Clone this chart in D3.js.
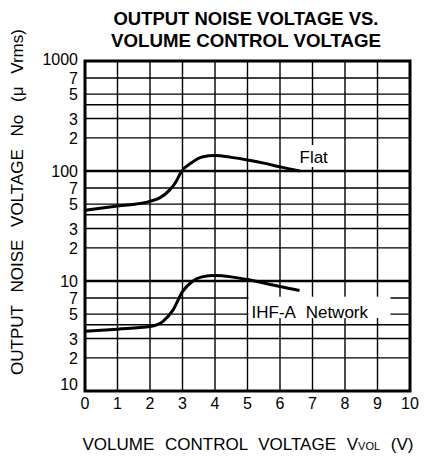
<!DOCTYPE html>
<html>
<head>
<meta charset="utf-8">
<script src="https://cdn.jsdelivr.net/npm/d3@7"></script>
<style>
  body { margin: 0; background: #fff; }
  svg { display: block; }
  text { font-family: "Liberation Sans", Arial, sans-serif; fill: #000; }
</style>
</head>
<body>
<div id="chart"></div>
<script>
// axis values
let xTicks = [0, 1, 2, 3, 4, 5, 6, 7, 8, 9, 10]
let yGrid = [2, 3, 4, 5, 7, 10, 20, 30, 40, 50, 70, 100, 200, 300, 400, 500, 700]
let yDecades = [10, 100]
let yLabelValues = [1000, 700, 500, 300, 200, 100, 70, 50, 30, 20, 10, 7, 5, 3, 2, 1]
let yLabelTexts = ['1000', '7', '5', '3', '2', '100', '7', '5', '3', '2', '10', '7', '5', '3', '2', '10']

// curves (V, uVrms)
let flatX = [0, 1, 2, 2.3, 2.6, 2.8, 2.95, 3.3, 3.6, 4.0, 4.5, 5.0, 5.5, 6.0, 6.6]
let flatY = [44, 48, 53, 57, 67, 80, 97, 120, 134, 138, 133, 126, 118, 109, 100]
let ihfX = [0, 1, 2, 2.4, 2.7, 3.0, 3.3, 3.6, 4.0, 4.5, 5.0, 5.5, 6.0, 6.6]
let ihfY = [3.5, 3.65, 3.85, 4.3, 5.4, 8.0, 9.9, 10.9, 11.2, 10.9, 10.3, 9.6, 8.9, 8.2]

let titleLines = ['OUTPUT NOISE VOLTAGE VS.', 'VOLUME CONTROL VOLTAGE']
let titleWidths = [265, 270]

function draw() {
  let width = 436, height = 458
  let svg = d3.select('#chart').append('svg')
    .attr('width', width)
    .attr('height', height)

  let x = d3.scaleLinear().domain([0, 10]).range([85, 410])
  let y = d3.scaleLog().domain([1, 1000]).range([391, 61])

  // grid
  svg.selectAll('line.vgrid')
    .data(xTicks.slice(1, -1))
    .enter().append('line')
      .attr('class', 'vgrid')
      .attr('x1', d => x(d)).attr('x2', d => x(d))
      .attr('y1', y(1)).attr('y2', y(1000))
      .attr('stroke', '#000').attr('stroke-width', 1.4)

  svg.selectAll('line.hgrid')
    .data(yGrid)
    .enter().append('line')
      .attr('class', 'hgrid')
      .attr('x1', x(0)).attr('x2', x(10))
      .attr('y1', d => y(d)).attr('y2', d => y(d))
      .attr('stroke', '#000')
      .attr('stroke-width', d => yDecades.includes(d) ? 2.4 : 1.4)

  // curves
  let line = d3.line()
    .x(d => x(d[0]))
    .y(d => y(d[1]))
    .curve(d3.curveMonotoneX)

  let curves = [d3.zip(flatX, flatY), d3.zip(ihfX, ihfY)]
  svg.selectAll('path.curve')
    .data(curves)
    .enter().append('path')
      .attr('class', 'curve')
      .attr('d', line)
      .attr('fill', 'none')
      .attr('stroke', '#000')
      .attr('stroke-width', 3)

  // frame
  svg.append('rect')
    .attr('x', x(0)).attr('y', y(1000))
    .attr('width', x(10) - x(0)).attr('height', y(1) - y(1000))
    .attr('fill', 'none').attr('stroke', '#000').attr('stroke-width', 3)

  // curve labels (white boxes hide grid)
  svg.append('rect')
    .attr('x', x(6.55)).attr('y', 145).attr('width', 36).attr('height', 22)
    .attr('fill', '#fff')
  svg.append('text')
    .attr('x', x(6.6)).attr('y', 163)
    .attr('font-size', 17)
    .text('Flat')

  svg.append('rect')
    .attr('x', x(5) + 1).attr('y', y(7.2)).attr('width', 142).attr('height', y(4.6) - y(7.2))
    .attr('fill', '#fff')
  svg.append('text')
    .attr('x', x(5) + 4).attr('y', 318)
    .attr('font-size', 17)
    .attr('word-spacing', 6)
    .text('IHF-A Network')

  // tick labels
  svg.selectAll('text.xtick')
    .data(xTicks)
    .enter().append('text')
      .attr('class', 'xtick')
      .attr('x', d => x(d))
      .attr('y', 409)
      .attr('text-anchor', 'middle')
      .attr('font-size', 16)
      .text(d => d)

  svg.selectAll('text.ytick')
    .data(yLabelValues)
    .enter().append('text')
      .attr('class', 'ytick')
      .attr('x', 78)
      .attr('y', (d, i) => y(d) + (i == 0 ? 4 : i == yLabelValues.length - 1 ? -1 : 6))
      .attr('text-anchor', 'end')
      .attr('font-size', 16)
      .text((d, i) => yLabelTexts[i])

  // titles
  svg.selectAll('text.title')
    .data(titleLines)
    .enter().append('text')
      .attr('class', 'title')
      .attr('x', 246)
      .attr('y', (d, i) => 25 + i * 22)
      .attr('text-anchor', 'middle')
      .attr('font-size', 18)
      .attr('font-weight', 'bold')
      .attr('textLength', (d, i) => titleWidths[i])
      .attr('lengthAdjust', 'spacingAndGlyphs')
      .text(d => d)

  let xt = svg.append('text')
    .attr('x', 248).attr('y', 450)
    .attr('text-anchor', 'middle')
    .attr('font-size', 17)
    .attr('word-spacing', 6)
  xt.append('tspan').text('VOLUME CONTROL VOLTAGE V')
  xt.append('tspan').attr('font-size', 11).text('VOL')
  xt.append('tspan').text(' (V)')

  svg.append('text')
    .attr('transform', 'translate(23,202) rotate(-90)')
    .attr('text-anchor', 'middle')
    .attr('font-size', 17)
    .attr('word-spacing', 8)
    .text('OUTPUT NOISE VOLTAGE No  (\u03bc Vrms)')
}

draw()
</script>
</body>
</html>
